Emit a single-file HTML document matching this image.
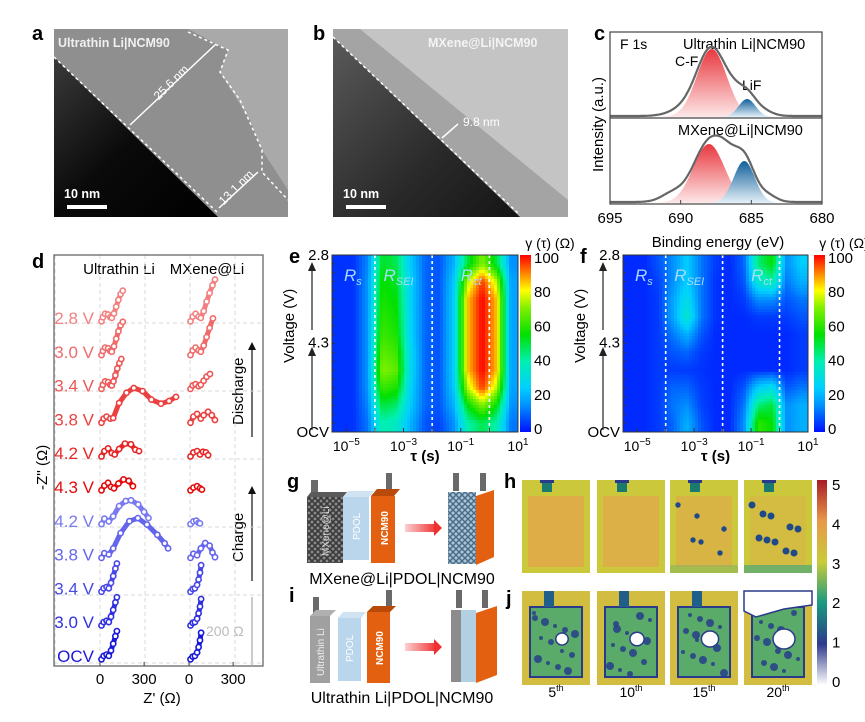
<!DOCTYPE html>
<html><head><meta charset="utf-8"><style>
html,body{margin:0;padding:0;background:#fff;}
svg{display:block;font-family:"Liberation Sans",Arial,sans-serif;}
</style></head><body>
<svg id="fig" xmlns="http://www.w3.org/2000/svg" width="865" height="722" viewBox="0 0 865 722">
<defs>
<linearGradient id="darkA" x1="0" y1="0" x2="1" y2="1"><stop offset="0" stop-color="#3a3a3a"/><stop offset="0.5" stop-color="#0a0a0a"/><stop offset="1" stop-color="#000"/></linearGradient>
<linearGradient id="darkB" x1="0" y1="0" x2="1" y2="1"><stop offset="0" stop-color="#5a5a5a"/><stop offset="0.6" stop-color="#2a2a2a"/><stop offset="1" stop-color="#151515"/></linearGradient>
<linearGradient id="redFill" x1="0" y1="0" x2="0" y2="1"><stop offset="0" stop-color="#e8383f"/><stop offset="1" stop-color="#fde8e8"/></linearGradient>
<linearGradient id="blueFill" x1="0" y1="0" x2="0" y2="1"><stop offset="0" stop-color="#0f5f9a"/><stop offset="1" stop-color="#e4f0f8"/></linearGradient>
<linearGradient id="cbJet" x1="0" y1="1" x2="0" y2="0">
<stop offset="0" stop-color="#0010ff"/><stop offset="0.15" stop-color="#0090ff"/><stop offset="0.25" stop-color="#00d0ff"/><stop offset="0.4" stop-color="#00f0b0"/><stop offset="0.55" stop-color="#00e000"/><stop offset="0.7" stop-color="#80f000"/><stop offset="0.8" stop-color="#ffff00"/><stop offset="0.9" stop-color="#ff8000"/><stop offset="1" stop-color="#ff0000"/></linearGradient>
<linearGradient id="cbH" x1="0" y1="1" x2="0" y2="0">
<stop offset="0" stop-color="#ffffff"/><stop offset="0.2" stop-color="#2e3a8c"/><stop offset="0.4" stop-color="#1a9a80"/><stop offset="0.6" stop-color="#c8cc38"/><stop offset="0.8" stop-color="#e8984a"/><stop offset="1" stop-color="#a81c24"/></linearGradient>
<linearGradient id="arrowG" x1="0" y1="0" x2="1" y2="0"><stop offset="0" stop-color="#fbd0d0"/><stop offset="1" stop-color="#f03030"/></linearGradient>
<pattern id="mesh" width="6" height="6" patternUnits="userSpaceOnUse"><rect width="6" height="6" fill="#8a8a8a"/><path d="M0 3 L3 0 L6 3 L3 6 Z" fill="none" stroke="#3a3a3a" stroke-width="1.6"/></pattern>
<pattern id="meshB" width="6" height="6" patternUnits="userSpaceOnUse"><rect width="6" height="6" fill="#a8c4d8"/><path d="M0 3 L3 0 L6 3 L3 6 Z" fill="none" stroke="#4a6a84" stroke-width="1.4"/></pattern>
<clipPath id="clipE"><rect x="332" y="255" width="186" height="177"/></clipPath>
<clipPath id="clipF"><rect x="623" y="255" width="185" height="177"/></clipPath>
</defs>

<g>
<text x="32" y="40" font-size="20" font-weight="bold">a</text>
<rect x="54" y="29" width="234" height="188" fill="#a9a9a9"/>
<path d="M54 29 L188 29 L228 50 L220 72 L250 120 L262 150 L288 190 L288 217 L218 217 L54 57 Z" fill="#8f8f8f"/>
<path d="M54 57 L218 217 L54 217 Z" fill="url(#darkA)"/>
<path d="M54 57 L218 213" stroke="#fff" stroke-width="1.5" stroke-dasharray="3,3" fill="none"/>
<path d="M188 32 L228 50 L220 72 L240 100 L262 150 L262 172 L288 200" stroke="#fff" stroke-width="1.5" stroke-dasharray="3,3" fill="none"/>
<line x1="130" y1="125" x2="216" y2="44" stroke="#fff" stroke-width="1.5"/>
<line x1="219" y1="208" x2="258" y2="172" stroke="#fff" stroke-width="1.5"/>
<text x="150" y="100" font-size="12" fill="#fff" transform="rotate(-45 155 90)">25.6 nm</text>
<text x="213" y="200" font-size="12" fill="#fff" transform="rotate(-45 225 190)">13.1 nm</text>
<text x="58" y="47" font-size="12.5" font-weight="bold" fill="#f0f0f0">Ultrathin Li|NCM90</text>
<text x="64" y="198" font-size="12.5" font-weight="bold" fill="#fff">10 nm</text>
<rect x="67" y="205" width="40" height="4" fill="#fff"/>
</g>

<g>
<text x="313" y="40" font-size="20" font-weight="bold">b</text>
<rect x="333" y="29" width="235" height="188" fill="#c4c4c4"/>
<path d="M333 29 L360 29 L568 200 L568 217 L520 217 L333 37 Z" fill="#a4a4a4"/>
<path d="M333 37 L520 217 L333 217 Z" fill="url(#darkB)"/>
<path d="M333 37 L520 215" stroke="#fff" stroke-width="1.5" stroke-dasharray="3,3" fill="none"/>
<line x1="442" y1="138" x2="458" y2="124" stroke="#fff" stroke-width="1.5"/>
<text x="463" y="126" font-size="12" fill="#fff">9.8 nm</text>
<text x="428" y="47" font-size="12.5" font-weight="bold" fill="#f4f4f4">MXene@Li|NCM90</text>
<text x="343" y="198" font-size="12.5" font-weight="bold" fill="#fff">10 nm</text>
<rect x="346" y="205" width="40" height="4" fill="#fff"/>
</g>

<g id="panelC">
<text x="594" y="40" font-size="20" font-weight="bold">c</text>
<text x="620" y="49" font-size="14">F 1s</text>
<text x="683" y="49" font-size="14.5">Ultrathin Li|NCM90</text>
<text x="675" y="66" font-size="14">C-F</text>
<text x="742" y="90" font-size="14">LiF</text>
<text x="678" y="135" font-size="14.5">MXene@Li|NCM90</text>
<text x="0" y="0" font-size="15" transform="translate(603 172) rotate(-90)">Intensity (a.u.)</text>
<text x="718" y="247" font-size="15" text-anchor="middle">Binding energy (eV)</text>
</g>

<g id="panelD">
<text x="32" y="268" font-size="20" font-weight="bold">d</text>
<text x="119" y="274" font-size="15" text-anchor="middle">Ultrathin Li</text>
<text x="207" y="274" font-size="15" text-anchor="middle">MXene@Li</text>
<text x="0" y="0" font-size="15" transform="translate(47 490) rotate(-90)">-Z'' (Ω)</text>
<text x="162" y="703" font-size="15" text-anchor="middle">Z' (Ω)</text>
<line x1="252" y1="437" x2="252" y2="348" stroke="#111" stroke-width="1.2"/>
<path d="M248 350 L252 342 L256 350 Z" fill="#111"/>
<text x="0" y="0" font-size="15" transform="translate(243 425) rotate(-90)">Discharge</text>
<line x1="252" y1="581" x2="252" y2="492" stroke="#111" stroke-width="1.2"/>
<path d="M248 494 L252 486 L256 494 Z" fill="#111"/>
<text x="0" y="0" font-size="15" transform="translate(243 562) rotate(-90)">Charge</text>
<line x1="252" y1="597" x2="252" y2="665" stroke="#bbb" stroke-width="1.5"/>
<text x="206" y="636" font-size="14" fill="#bbb">200 Ω</text>
</g>

<g id="panelE">
<text x="289" y="263" font-size="20" font-weight="bold">e</text>
</g>
<g id="panelF">
<text x="580" y="263" font-size="20" font-weight="bold">f</text>
</g>

<g>
<text x="287" y="488" font-size="20" font-weight="bold">g</text>
<rect x="311" y="480" width="7" height="16" fill="#6a6a6a"/>
<path d="M307 497 L311 492 L347 492 L343 497 Z" fill="#5a5a5a"/>
<rect x="307" y="497" width="36" height="66" fill="url(#mesh)"/>
<text x="0" y="0" font-size="10" fill="#ddd" transform="translate(329 556) rotate(-90)">MXene@Li</text>
<path d="M343 497 L348 491 L374 491 L369 497 Z" fill="#cfe3f2"/>
<rect x="343" y="497" width="26" height="63" fill="#b9d6ec"/>
<text x="0" y="0" font-size="10" fill="#fff" transform="translate(360 540) rotate(-90)">PDOL</text>
<rect x="386" y="473" width="6" height="16" fill="#6a6a6a"/>
<path d="M371 496 L377 489 L400 489 L394 496 Z" fill="#b84a0a"/>
<rect x="371" y="496" width="24" height="67" fill="#e2600f"/>
<text x="0" y="0" font-size="10" font-weight="bold" fill="#fff" transform="translate(388 545) rotate(-90)">NCM90</text>
<rect x="405" y="524" width="32" height="8" fill="url(#arrowG)"/>
<path d="M434 520 L442 528 L434 536 Z" fill="#f03030"/>
<rect x="453" y="473" width="6" height="18" fill="#6a6a6a"/>
<rect x="480" y="473" width="6" height="18" fill="#6a6a6a"/>
<rect x="448" y="492" width="28" height="72" fill="url(#meshB)"/>
<path d="M476 496 L494 490 L494 557 L476 565 Z" fill="#e2600f"/>
<text x="402" y="584" font-size="16" text-anchor="middle">MXene@Li|PDOL|NCM90</text>
</g>
<g>
<text x="289" y="602" font-size="20" font-weight="bold">i</text>
<rect x="313" y="597" width="6" height="16" fill="#6a6a6a"/>
<path d="M310 616 L316 610 L336 610 L330 616 Z" fill="#b0b0b0"/>
<rect x="310" y="616" width="20" height="67" fill="#a0a0a0"/>
<text x="0" y="0" font-size="10" fill="#eee" transform="translate(324 676) rotate(-90)">Ultrathin Li</text>
<path d="M338 618 L343 612 L366 612 L361 618 Z" fill="#cfe3f2"/>
<rect x="338" y="618" width="23" height="63" fill="#b9d6ec"/>
<text x="0" y="0" font-size="10" fill="#fff" transform="translate(353 662) rotate(-90)">PDOL</text>
<rect x="386" y="590" width="6" height="16" fill="#6a6a6a"/>
<path d="M367 612 L373 606 L396 606 L390 612 Z" fill="#b84a0a"/>
<rect x="367" y="612" width="23" height="71" fill="#e2600f"/>
<text x="0" y="0" font-size="10" font-weight="bold" fill="#fff" transform="translate(383 665) rotate(-90)">NCM90</text>
<rect x="405" y="643" width="32" height="8" fill="url(#arrowG)"/>
<path d="M434 639 L442 647 L434 655 Z" fill="#f03030"/>
<rect x="456" y="590" width="6" height="18" fill="#6a6a6a"/>
<rect x="482" y="590" width="6" height="18" fill="#6a6a6a"/>
<rect x="451" y="610" width="10" height="72" fill="#8c8c8c"/>
<rect x="461" y="610" width="15" height="72" fill="#b3cfe2"/>
<path d="M476 613 L497 606 L497 675 L476 683 Z" fill="#e2600f"/>
<text x="402" y="703" font-size="16" text-anchor="middle">Ultrathin Li|PDOL|NCM90</text>
</g>

<g id="panelHJ">
<text x="504" y="488" font-size="20" font-weight="bold">h</text>
<text x="506" y="605" font-size="20" font-weight="bold">j</text>
<rect x="817" y="480" width="10" height="205" fill="url(#cbH)"/>
</g>
</svg>

<script>
var NS = "http://www.w3.org/2000/svg";
var svg = document.getElementById('fig');
function mk(tag, attrs, parent){ var e = document.createElementNS(NS, tag); for (var k in attrs) e.setAttribute(k, attrs[k]); (parent||svg).appendChild(e); return e; }
function txt(x,y,s,size,anchor,parent){ var t = mk('text',{x:x,y:y,'font-size':size,'text-anchor':anchor||'start'},parent); t.textContent = s; return t; }

/* ===== Panel c: XPS data ===== */
var xpsTicks = [695, 690, 685, 680];
var topPeakCenters = [687.8, 685.3];
var topPeakAmps = [68, 18];
var topPeakWidths = [1.05, 0.6];
var topExtraCenters = [689.8, 684.3, 686.2];
var topExtraAmps = [6, 6, 10];
var topExtraWidths = [1.0, 0.7, 0.6];
var botPeakCenters = [688.0, 685.5];
var botPeakAmps = [59, 42];
var botPeakWidths = [1.1, 0.75];
var botExtraCenters = [686.8, 690.6, 683.8];
var botExtraAmps = [20, 8, 6];
var botExtraWidths = [0.7, 0.8, 0.6];

(function(){
  var g = document.getElementById('panelC');
  var L=610, R=822, T=32, M=118, B=204;
  function xE(e){ return L + (695 - e) * (R - L) / 15; }
  function gauss(e,c,a,w){ return a*Math.exp(-(e-c)*(e-c)/(2*w*w)); }
  function drawSub(base, pc, pa, pw, ec, ea, ew, nm){
    var fills = ['url(#redFill)','url(#blueFill)'];
    for (var k=0;k<pc.length;k++){
      var d = 'M'+xE(pc[k]+4*pw[k])+' '+base;
      for (var e=pc[k]+4*pw[k]; e>=pc[k]-4*pw[k]; e-=0.05) d += ' L'+xE(e).toFixed(1)+' '+(base-gauss(e,pc[k],pa[k],pw[k])).toFixed(1);
      d += ' L'+xE(pc[k]-4*pw[k])+' '+base+' Z';
      var p = mk('path',{d:d, fill:fills[k]}, g);
      
      
    }
    var d2 = '';
    for (var e2=695; e2>=680; e2-=0.05){
      var v=0, i;
      for (i=0;i<pc.length;i++) v += gauss(e2,pc[i],pa[i],pw[i]);
      for (i=0;i<ec.length;i++) v += gauss(e2,ec[i],ea[i],ew[i]);
      d2 += (d2?' L':'M') + xE(e2).toFixed(1)+' '+(base-1-v).toFixed(1);
    }
    var env = mk('path',{d:d2, fill:'none', stroke:'#666', 'stroke-width':2.2}, g);
    
    
  }
  drawSub(117, topPeakCenters, topPeakAmps, topPeakWidths, topExtraCenters, topExtraAmps, topExtraWidths, 'ultrathin');
  drawSub(203, botPeakCenters, botPeakAmps, botPeakWidths, botExtraCenters, botExtraAmps, botExtraWidths, 'mxene');
  var fr = mk('rect',{x:L,y:T,width:R-L,height:B-T,fill:'none',stroke:'#444','stroke-width':1.2}, g);
  
  
  var dv = mk('line',{x1:L,y1:M,x2:R,y2:M,stroke:'#444','stroke-width':1.2}, g);
  
  
  for (var i=0;i<xpsTicks.length;i++){
    var x = xE(xpsTicks[i]);
    var tk = mk('line',{x1:x,y1:B,x2:x,y2:B-4,stroke:'#444'}, g);
    
    
    var t = txt(x, 223, String(xpsTicks[i]), 15, 'middle', g);
    
    
  }
})();

/* ===== Panel d: Nyquist data (Z', -Z'' in ohm) ===== */
var voltageLabels = ['2.8 V','3.0 V','3.4 V','3.8 V','4.2 V','4.3 V','4.2 V','3.8 V','3.4 V','3.0 V','OCV'];
var voltageColors = ['#f28080','#f06a6a','#ee5656','#ec4040','#e82424','#e60a0a','#7a7af0','#6565ec','#4848e6','#3030e0','#1818d8'];
var ultraZre = [
 [10,20,35,55,70,80,95,110,125,140,155],
 [10,20,35,55,70,80,95,110,125,140,155],
 [10,20,35,55,70,80,92,105,118,132,145],
 [10,25,45,70,90,130,180,230,290,350,415,470,517],
 [10,30,55,80,100,130,170,210,240,265],
 [10,30,55,75,95,125,160,195,224],
 [10,30,60,90,130,175,211,260,300,330],
 [10,30,60,90,140,200,258,320,390,440,463],
 [10,25,45,60,75,90,105,115],
 [10,25,45,60,75,90,105,115],
 [10,25,45,60,75,90,105,115]
];
var ultraZim = [
 [2,14,24,22,14,12,25,45,65,82,92],
 [2,14,24,22,14,12,28,50,72,90,100],
 [2,14,24,22,14,12,24,42,62,78,90],
 [2,14,20,14,16,60,90,104,95,70,58,66,78],
 [2,18,26,12,8,24,40,38,22,18],
 [2,16,24,12,8,22,34,30,14],
 [2,18,10,25,55,70,72,60,38,20],
 [2,16,12,30,75,110,119,100,70,45,30],
 [2,12,16,12,28,48,70,85],
 [2,12,16,12,28,48,70,85],
 [2,12,16,12,28,48,70,85]
];
var mxZre = [
 [10,25,45,65,80,100,120,140,160,177],
 [10,25,45,65,80,100,120,140,163],
 [10,25,45,65,80,100,120,143],
 [10,30,55,80,100,130,155,177],
 [10,30,55,75,95,115,130],
 [10,30,55,75,88],
 [10,30,50,65,75],
 [10,30,55,80,110,140,160,177],
 [10,25,40,55,65,75,82],
 [10,25,40,55,65,75,82],
 [10,25,40,55,65,75,82]
];
var mxZim = [
 [2,16,24,16,12,32,60,85,108,125],
 [2,16,24,16,12,30,55,82,110],
 [2,12,16,10,14,26,38,46],
 [2,20,28,14,24,34,24,10],
 [2,14,18,8,16,14,6],
 [2,10,14,8,4],
 [2,10,12,6,4],
 [2,14,10,30,46,38,18,4],
 [2,10,12,22,38,58,80],
 [2,10,12,22,38,58,80],
 [2,10,12,22,38,58,80]
];
var nyqTicks = [0, 300];

(function(){
  var g = document.getElementById('panelD');
  var L=54, R=263, T=255, B=666;
  var x0U = 100, x0M = 189, sx = 0.147, sy = 0.34;
  var baseY0 = 322, dy = 33.8;
  var gx = [55,100,145,190,235], gy = [323,391,459,527,595,663];
  for (var i=0;i<gx.length;i++){ var l = mk('line',{x1:gx[i],y1:T,x2:gx[i],y2:B,stroke:'#d8d8d8','stroke-dasharray':'4,3'}, g);   }
  for (var j=0;j<gy.length;j++){ var l2 = mk('line',{x1:L,y1:gy[j],x2:R,y2:gy[j],stroke:'#d8d8d8','stroke-dasharray':'4,3'}, g);   }
  var fr = mk('rect',{x:L,y:T,width:R-L,height:B-T,fill:'none',stroke:'#666','stroke-width':1.3}, g);
  
  
  function series(x0, zr, zi, base, col, nm){
    var d='';
    for (var k=0;k<zr.length;k++) d += (k?' L':'M') + (x0+zr[k]*sx).toFixed(1)+' '+(base-zi[k]*sy).toFixed(1);
    var p = mk('path',{d:d,fill:'none',stroke:col,'stroke-width':5,'stroke-linecap':'round','stroke-linejoin':'round'}, g);
    
    
    for (var m=0;m<zr.length;m++){
      var c = mk('circle',{cx:(x0+zr[m]*sx).toFixed(1), cy:(base-zi[m]*sy).toFixed(1), r:2.6, fill:'#fff', stroke:col,'stroke-width':1.6}, g);
      
      
    }
  }
  for (var v=0; v<voltageLabels.length; v++){
    var base = baseY0 + v*dy;
    var t = txt(94, base+2, voltageLabels[v], 17, 'end', g);
    t.setAttribute('fill', voltageColors[v]);
    
    
    series(x0U, ultraZre[v], ultraZim[v], base, voltageColors[v], 'ultrathin-curve');
    series(x0M, mxZre[v], mxZim[v], base, voltageColors[v], 'mxene-curve');
  }
  var xs = [x0U, x0M];
  for (var a=0;a<2;a++) for (var q=0;q<nyqTicks.length;q++){
    var x = xs[a] + nyqTicks[q]*sx;
    var tk = mk('line',{x1:x,y1:B,x2:x,y2:B-4,stroke:'#444'}, g);
    
    
    var tl = txt(x, 684, String(nyqTicks[q]), 15, 'middle', g);
    
    
  }
})();

/* ===== Panels e, f: DRT heatmaps ===== */
var tauCenters = [-5.25,-4.75,-4.25,-3.75,-3.25,-2.75,-2.25,-1.75,-1.25,-0.75,-0.25,0.25,0.75];
var tauTickExps = [-5,-3,-1,1];
var voltageTickLabels = ['2.8','4.3','OCV'];
var colorbarTicks = [100,80,60,40,20,0];
var gammaE = [
 [4,4,14,52,48,24,10,8,20,50,70,50,15],
 [4,4,16,56,52,26,10,8,24,75,96,75,18],
 [4,4,16,58,54,26,10,8,25,85,100,85,18],
 [4,4,16,60,56,26,10,8,25,85,100,85,18],
 [4,4,16,62,58,26,10,8,25,85,100,85,18],
 [4,4,16,66,62,28,10,8,25,85,100,85,18],
 [4,4,16,70,66,28,10,8,25,85,100,85,18],
 [4,4,16,62,58,26,10,8,24,75,96,75,18],
 [4,4,14,50,46,24,10,8,20,55,70,55,15],
 [4,4,12,40,36,20,8,6,15,40,48,40,12]
];
var gammaF = [
 [3,3,8,15,25,12,5,3,10,45,55,15,25],
 [3,3,6,15,25,12,4,3,8,35,40,12,20],
 [3,3,5,18,30,12,4,3,5,15,15,8,12],
 [3,3,5,18,35,12,4,3,3,5,5,5,8],
 [3,3,5,12,20,8,3,3,3,3,3,3,5],
 [3,3,5,8,10,5,3,3,3,3,3,3,5],
 [3,3,5,5,5,4,3,3,3,3,3,3,5],
 [3,3,5,10,10,5,3,3,8,25,30,8,12],
 [3,3,5,12,15,6,3,3,12,45,50,15,20],
 [3,3,5,10,20,8,3,3,15,60,55,15,20]
];

var jetStops = [[0,[0,16,255]],[15,[0,144,255]],[25,[0,208,255]],[40,[0,240,176]],[55,[0,224,0]],[70,[128,240,0]],[80,[255,255,0]],[90,[255,128,0]],[100,[255,0,0]]];
function jet(v){
  v = Math.max(0, Math.min(100, v));
  for (var i=1;i<jetStops.length;i++){
    if (v <= jetStops[i][0]){
      var a = jetStops[i-1], b = jetStops[i], t = (v-a[0])/(b[0]-a[0]);
      return 'rgb('+Math.round(a[1][0]+(b[1][0]-a[1][0])*t)+','+Math.round(a[1][1]+(b[1][1]-a[1][1])*t)+','+Math.round(a[1][2]+(b[1][2]-a[1][2])*t)+')';
    }
  }
  return 'rgb(255,0,0)';
}

function drawDRT(gid, L, R, T, B, data, clipId, cbX, labelName){
  var g = document.getElementById(gid);
  var lmin = -5.5, lmax = 1;
  function xT(l){ return L + (l - lmin) * (R - L) / (lmax - lmin); }
  var nR = data.length, nC = tauCenters.length;
  function sample(l, rowF){
    var ci = 0; while (ci < nC-2 && tauCenters[ci+1] < l) ci++;
    var tc = (l - tauCenters[ci]) / (tauCenters[ci+1]-tauCenters[ci]); tc = Math.max(0, Math.min(1, tc));
    var ri = Math.floor(rowF); if (ri < 0) ri = 0; if (ri > nR-2) ri = nR-2;
    var tr = rowF - ri; tr = Math.max(0, Math.min(1, tr));
    var a = data[ri][ci]*(1-tc) + data[ri][ci+1]*tc;
    var b = data[ri+1][ci]*(1-tc) + data[ri+1][ci+1]*tc;
    return a*(1-tr) + b*tr;
  }
  var hg = mk('g',{'clip-path':'url(#'+clipId+')'}, g);
  
  
  var step = 3;
  for (var y = T; y < B; y += step){
    var rowF = (y + step/2 - T) / (B - T) * nR - 0.5;
    for (var x = L; x < R; x += step){
      var l = lmin + (x + step/2 - L) / (R - L) * (lmax - lmin);
      var c = mk('rect',{x:x, y:y, width:step+0.6, height:step+0.6, fill:jet(sample(l, rowF))}, hg);
      
      
    }
  }
  var dashes = [-4, -2, 0];
  for (var i=0;i<dashes.length;i++){
    var dl = mk('line',{x1:xT(dashes[i]),y1:T,x2:xT(dashes[i]),y2:B,stroke:'#fff','stroke-width':1.6,'stroke-dasharray':'3,3'}, g);
    
    
  }
  var fr = mk('rect',{x:L,y:T,width:R-L,height:B-T,fill:'none',stroke:'#333','stroke-width':1}, g);
  
  
  var rl = [['R','s',L+12],['R','SEI',xT(-3.7)],['R','ct',xT(-1.0)]];
  for (var k=0;k<rl.length;k++){
    var t = mk('text',{x:rl[k][2], y:T+26, 'font-size':17, 'font-style':'italic', fill:'#a8dcff'}, g);
    t.textContent = rl[k][0];
    var sp = mk('tspan',{'font-size':11, dy:4}, t);
    sp.textContent = rl[k][1];
    
    
  }
  for (var e=-5; e<=1; e++){
    var mt = mk('line',{x1:xT(e),y1:B,x2:xT(e),y2:B-4,stroke:'#333'}, g);
    
    
  }
  for (var q=0;q<tauTickExps.length;q++){
    var tt = mk('text',{x:xT(tauTickExps[q]), y:B+19, 'font-size':14, 'text-anchor':'middle'}, g);
    tt.textContent = '10';
    var sup = mk('tspan',{'font-size':10, dy:-6}, tt);
    sup.textContent = (tauTickExps[q] < 0 ? '\u2212' : '') + Math.abs(tauTickExps[q]);
    
    
  }
  var xt = mk('text',{x:(L+R)/2, y:B+29, 'font-size':15, 'font-weight':'bold', 'text-anchor':'middle'}, g);
  xt.textContent = 'τ (s)';
  
  
  for (var yy=0; yy<=20; yy++){
    var yk = mk('line',{x1:L,y1:T+yy*(B-T)/20,x2:L+3,y2:T+yy*(B-T)/20,stroke:'#333'}, g);
    
    
  }
  var ypos = [T+5, T+(B-T)*0.495+5, B+5];
  for (var w=0; w<voltageTickLabels.length; w++){
    var yl = txt(L-3, ypos[w], voltageTickLabels[w], 15, 'end', g);
    
    
  }
  var ax = L - 20;
  var a1 = mk('line',{x1:ax,y1:B-2,x2:ax,y2:T+100,stroke:'#222','stroke-width':1.2}, g);
  
  
  var h1 = mk('path',{d:'M'+(ax-4)+' '+(T+101)+' L'+ax+' '+(T+92)+' L'+(ax+4)+' '+(T+101)+' Z',fill:'#222'}, g);
  
  
  var a2 = mk('line',{x1:ax,y1:T+75,x2:ax,y2:T+15,stroke:'#222','stroke-width':1.2}, g);
  
  
  var h2 = mk('path',{d:'M'+(ax-4)+' '+(T+16)+' L'+ax+' '+(T+7)+' L'+(ax+4)+' '+(T+16)+' Z',fill:'#222'}, g);
  
  
  var ytl = mk('text',{x:0,y:0,'font-size':15,'text-anchor':'middle',transform:'translate('+(L-38)+' '+(T+(B-T)*0.4)+') rotate(-90)'}, g);
  ytl.textContent = 'Voltage (V)';
  
  
  var cb = mk('rect',{x:cbX,y:T,width:11,height:B-T,fill:'url(#cbJet)'}, g);
  
  
  for (var n=0;n<colorbarTicks.length;n++){
    var cy = B - colorbarTicks[n]/100*(B-T-6) - 3;
    var cl = txt(cbX+14, cy+5, String(colorbarTicks[n]), 15, 'start', g);
    
    
  }
  var ct = txt(cbX+30, T-7, 'γ (τ) (Ω)', 14, 'middle', g);
  
  
}
drawDRT('panelE', 332, 518, 255, 432, gammaE, 'clipE', 520, 'drt-e');
drawDRT('panelF', 623, 808, 255, 432, gammaF, 'clipF', 814, 'drt-f');

/* ===== Panels h, j: thickness maps ===== */
var cycleLabels = ['5', '10', '15', '20'];
var hjTicks = [5,4,3,2,1,0];
var degradeLevel = [0.2, 0.35, 0.6, 1.0];
(function(){
  var g = document.getElementById('panelHJ');
  var tx = [522, 597, 670, 744], tw = 68;
  function tile(x, y, h, isJ, i){
    var tg = mk('g',{}, g);
    
    
    mk('rect',{x:x,y:y,width:tw,height:h,fill:'#cbc83c'}, tg);
    if (!isJ){
      mk('rect',{x:x+6,y:y+16,width:tw-12,height:h-22,fill:'#e4a44c',opacity:0.85 - degradeLevel[i]*0.5}, tg);
      mk('rect',{x:x+20,y:y,width:10,height:12,fill:'#1a7a70'}, tg);
      mk('rect',{x:x+18,y:y,width:14,height:3,fill:'#2a3a8a'}, tg);
      if (degradeLevel[i] > 0.5){
        for (var k=0;k<Math.round(degradeLevel[i]*10);k++){
          mk('circle',{cx:x+8+((k*23)%50),cy:y+25+((k*37)%50),r:1.5+degradeLevel[i]*2,fill:'#1e4a8a'}, tg);
        }
        mk('rect',{x:x,y:y+h-8,width:tw,height:8,fill:'#4aa87a',opacity:degradeLevel[i]-0.3}, tg);
      }
    } else {
      mk('rect',{x:x,y:y,width:tw,height:h,fill:'#e0a84a',opacity:0.35}, tg);
      mk('rect',{x:x+8,y:y+16,width:tw-16,height:h-24,fill:'#5aaa6a',stroke:'#2a3a8a','stroke-width':2}, tg);
      mk('rect',{x:x+22,y:y,width:10,height:16,fill:'#1f5f8a'}, tg);
      for (var m=0;m<14;m++){
        mk('circle',{cx:x+12+((m*17+i*7)%44),cy:y+22+((m*29+i*11)%62),r:2+((m+i)%3),fill:'#27408a',opacity:0.85}, tg);
      }
      mk('ellipse',{cx:x+40,cy:y+48,rx:5+degradeLevel[i]*6,ry:5+degradeLevel[i]*5,fill:'#fff',stroke:'#2a3a8a','stroke-width':1.5}, tg);
      if (i === 3){
        mk('path',{d:'M'+x+' '+y+' L'+(x+tw)+' '+y+' L'+(x+tw)+' '+(y+14)+' L'+(x+40)+' '+(y+18)+' L'+(x+12)+' '+(y+26)+' L'+x+' '+(y+20)+' Z',fill:'#fff',stroke:'#2a3a8a','stroke-width':1.5}, tg);
      }
    }
  }
  for (var i=0;i<4;i++){
    tile(tx[i], 480, 93, false, i);
    tile(tx[i], 591, 94, true, i);
    var t = mk('text',{x:tx[i]+tw/2, y:697, 'font-size':14, 'text-anchor':'middle'}, g);
    t.textContent = cycleLabels[i];
    var s = mk('tspan',{'font-size':9, dy:-6}, t);
    s.textContent = 'th';
    
    
  }
  for (var n=0;n<hjTicks.length;n++){
    var yy = 685 - hjTicks[n]/5*197 - 4;
    var l = txt(832, yy+6, String(hjTicks[n]), 15, 'start', g);
    
    
  }
})();
</script>
</body></html>
